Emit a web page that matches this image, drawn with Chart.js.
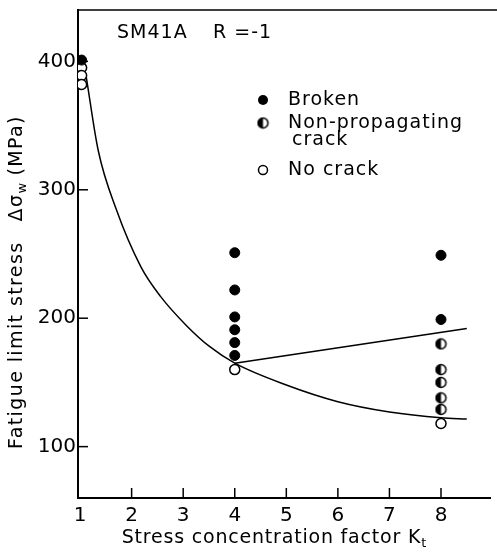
<!DOCTYPE html>
<html>
<head>
<meta charset="utf-8">
<script src="https://cdn.jsdelivr.net/npm/chart.js@4.4.1/dist/chart.umd.min.js"></script>
<style>
  html, body { margin: 0; padding: 0; background: #fff; }
  #wrap { width: 497px; height: 553px; }
</style>
</head>
<body>
<div id="wrap"><canvas id="chart" width="497" height="553"></canvas></div>
<script>
// tick labels
const ktTicks = [1, 2, 3, 4, 5, 6, 7, 8];
const stressTicks = [100, 200, 300, 400];

// test results (Kt, stress range MPa)
const brokenKt = [1.03, 4, 4, 4, 4, 4, 4, 8, 8];
const brokenVal = [401, 251, 222, 201, 191, 181, 171, 249, 199];
const nonPropKt = [8, 8, 8, 8, 8];
const nonPropVal = [180, 160, 150, 138, 129];
const noCrackKt = [1.03, 1.03, 1.03, 4, 8];
const noCrackVal = [395, 389, 382, 160, 118];

// fatigue limit curves
const limitKt = [1.12, 1.35, 1.7, 2.18, 2.56, 3.07, 3.51, 4, 5, 6, 7, 8, 8.5];
const limitVal = [388, 331, 285, 240, 217, 194, 178, 165, 148, 135, 127, 122.5, 121.5];
const crackKt = [4, 8.5];
const crackVal = [165, 192];

const FONT = "'DejaVu Sans', sans-serif";

const pts = (xs, ys) => xs.map((x, i) => ({ x, y: ys[i] }));

// half filled marker (non-propagating crack)
function halfMarker() {
    const c = document.createElement('canvas');
    c.width = 13; c.height = 13;
    const g = c.getContext('2d');
    g.beginPath(); g.arc(6.5, 6.5, 5, 0, Math.PI * 2);
    g.fillStyle = '#fff'; g.fill();
    g.beginPath(); g.arc(6.5, 6.5, 5, Math.PI / 2, Math.PI * 1.5);
    g.closePath(); g.fillStyle = '#000'; g.fill();
    g.beginPath(); g.arc(6.5, 6.5, 5, 0, Math.PI * 2);
    g.lineWidth = 1.5; g.strokeStyle = '#000'; g.stroke();
    return c;
}
const halfImg = halfMarker();

function setFont(ctx, size, spacing) {
    ctx.font = size + 'px ' + FONT;
    ctx.letterSpacing = (spacing || 0) + 'px';
}

// draws text with a subscript, returns its width
function textSub(ctx, x, y, main, sub, size, spacing) {
    setFont(ctx, size, spacing);
    ctx.fillText(main, x, y);
    const w = ctx.measureText(main).width;
    setFont(ctx, Math.round(size * 0.7), 0);
    ctx.fillText(sub, x + w, y + size * 0.3);
    return w + ctx.measureText(sub).width;
}

const decorPlugin = {
    id: 'decor',
    afterDraw(chart) {
        const ctx = chart.ctx;
        const a = chart.chartArea;
        const xs = chart.scales.x, ys = chart.scales.y;
        ctx.save();
        ctx.strokeStyle = '#000';
        ctx.fillStyle = '#000';

        // top frame line
        ctx.lineWidth = 1.5;
        ctx.beginPath(); ctx.moveTo(a.left, a.top); ctx.lineTo(chart.width, a.top); ctx.stroke();

        // inner ticks
        ktTicks.slice(1).forEach(v => {
            const px = xs.getPixelForValue(v);
            ctx.beginPath(); ctx.moveTo(px, a.bottom); ctx.lineTo(px, a.bottom - 10); ctx.stroke();
        });
        stressTicks.forEach(v => {
            const py = ys.getPixelForValue(v);
            ctx.beginPath(); ctx.moveTo(a.left, py); ctx.lineTo(a.left + 10, py); ctx.stroke();
        });

        ctx.textBaseline = 'middle';
        ctx.textAlign = 'left';

        // material / stress ratio
        setFont(ctx, 19, 1);
        ctx.fillText('SM41A', 117, 33);
        ctx.fillText('R =-1', 213, 33);

        // legend
        const lx = 263;
        ctx.beginPath(); ctx.arc(lx, 100, 5, 0, Math.PI * 2); ctx.fill();
        ctx.drawImage(halfImg, lx - 6.5, 123 - 6.5);
        ctx.beginPath(); ctx.arc(lx, 170, 4.5, 0, Math.PI * 2);
        ctx.lineWidth = 1.5; ctx.stroke();
        setFont(ctx, 19, 1);
        ctx.fillText('Broken', 288, 100);
        ctx.fillText('Non-propagating', 288, 123);
        ctx.fillText('crack', 292, 140);
        ctx.fillText('No crack', 288, 170);

        // x title
        const xMain = 'Stress concentration factor K';
        setFont(ctx, 19, 0.8);
        const xw = ctx.measureText(xMain).width;
        setFont(ctx, 13, 0);
        const xsw = ctx.measureText('t').width;
        textSub(ctx, 274 - (xw + xsw) / 2, 538, xMain, 't', 19, 0.8);

        // y title
        ctx.translate(17, 282);
        ctx.rotate(-Math.PI / 2);
        const p1 = 'Fatigue limit stress';
        const gap = 20;
        setFont(ctx, 19, 1.4);
        const w1 = ctx.measureText(p1).width;
        const w2 = ctx.measureText('Δσ').width;
        const w4 = ctx.measureText(' (MPa)').width;
        setFont(ctx, 13, 0);
        const w3 = ctx.measureText('w').width;
        let x0 = -(w1 + gap + w2 + w3 + w4) / 2;
        setFont(ctx, 19, 1.4);
        ctx.fillText(p1, x0, 0);
        x0 += w1 + gap;
        x0 += textSub(ctx, x0, 0, 'Δσ', 'w', 19, 1.4);
        setFont(ctx, 19, 1.4);
        ctx.fillText(' (MPa)', x0, 0);
        ctx.restore();
    }
};

new Chart(document.getElementById('chart'), {
    type: 'scatter',
    data: {
        datasets: [
            {
                label: 'limit',
                type: 'line',
                data: pts(limitKt, limitVal),
                borderColor: '#000',
                borderWidth: 1.5,
                pointRadius: 0,
                cubicInterpolationMode: 'monotone',
                fill: false
            },
            {
                label: 'crack limit',
                type: 'line',
                data: pts(crackKt, crackVal),
                borderColor: '#000',
                borderWidth: 1.5,
                pointRadius: 0,
                fill: false
            },
            {
                label: 'Broken',
                data: pts(brokenKt, brokenVal),
                pointStyle: 'circle',
                pointRadius: 5,
                backgroundColor: '#000',
                borderColor: '#000',
                borderWidth: 1
            },
            {
                label: 'Non-propagating crack',
                data: pts(nonPropKt, nonPropVal),
                pointStyle: halfImg
            },
            {
                label: 'No crack',
                data: pts(noCrackKt, noCrackVal),
                pointStyle: 'circle',
                pointRadius: 5,
                backgroundColor: '#fff',
                borderColor: '#000',
                borderWidth: 1.5
            }
        ]
    },
    options: {
        responsive: false,
        animation: false,
        layout: { padding: { top: 10, right: 0, left: 0, bottom: 0 } },
        plugins: {
            legend: { display: false },
            tooltip: { enabled: false }
        },
        scales: {
            x: {
                type: 'linear',
                min: 0.96,
                max: 8.96,
                afterBuildTicks: s => { s.ticks = ktTicks.map(v => ({ value: v })); },
                afterFit: s => { s.height = 55; s.paddingLeft = 0; s.paddingRight = 0; },
                grid: { display: false, drawTicks: false },
                border: { display: true, color: '#000', width: 2 },
                ticks: {
                    color: '#000',
                    padding: 6,
                    maxRotation: 0,
                    font: { family: FONT, size: 20 }
                }
            },
            y: {
                type: 'linear',
                min: 60,
                max: 440,
                afterBuildTicks: s => { s.ticks = stressTicks.map(v => ({ value: v })); },
                afterFit: s => { s.width = 78; s.paddingTop = 0; s.paddingBottom = 0; },
                grid: { display: false, drawTicks: false },
                border: { display: true, color: '#000', width: 2 },
                ticks: {
                    color: '#000',
                    padding: 2,
                    font: { family: FONT, size: 20 }
                }
            }
        }
    },
    plugins: [decorPlugin]
});
</script>
</body>
</html>
